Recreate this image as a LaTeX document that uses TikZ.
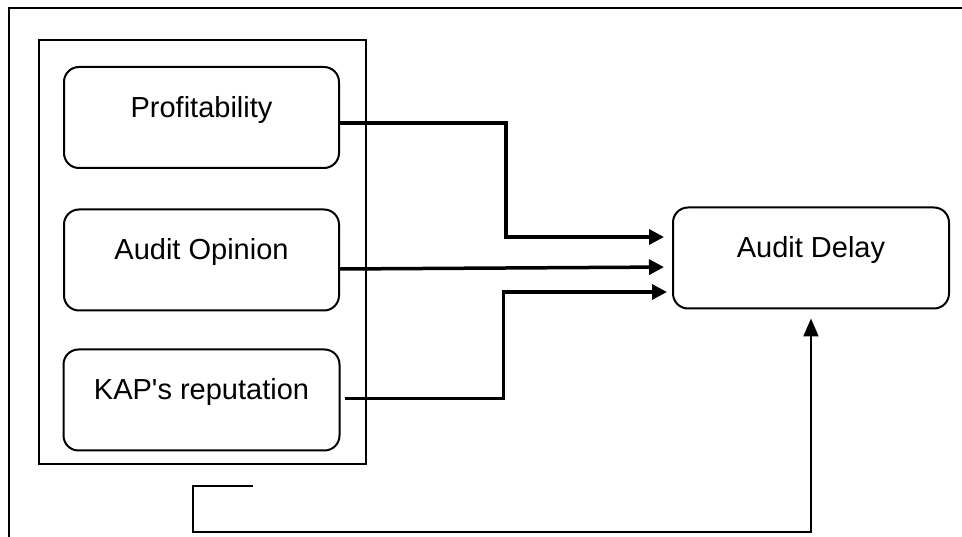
\documentclass[tikz,border=0pt]{standalone}
\usepackage{fontspec}
\setmainfont{Liberation Sans}[Ligatures=TeXOff]
\usetikzlibrary{arrows.meta,positioning}
\tikzset{
  factor/.style  = {rectangle, rounded corners=15pt, draw, line width=2pt,
                    minimum width=#1, minimum height=101pt, inner sep=0pt,
                    text height=20pt, text depth=20pt,
                    font=\fontsize{29}{35}\selectfont},
  groupbox/.style = {rectangle, draw, line width=2pt,
                    minimum width=327pt, minimum height=424pt},
  frame/.style   = {line width=1.5pt},
  flow/.style    = {-{Triangle[length=15pt,width=15pt]}, line width=3.5pt},
  back flow/.style = {-{Triangle[length=18pt,width=15pt]}, line width=2pt},
}
\begin{document}
\begin{tikzpicture}[x=1pt, y=-1pt]
  \useasboundingbox (0,0) rectangle (962,537);

  % outer frame, cut off at the page edge
  \draw[frame] (9,537) -- (9,8) -- (962,8);

  \node[groupbox] (factors) at (202.5,252) {};

  \node[factor=275pt] (prof) at (201.5,117.5) {Profitability};
  \node[factor=275pt, below=39.5pt of prof] (opin) {Audit Opinion};
  \node[factor=276pt, below=37pt of opin] (kap) {KAP's reputation};

  \node[factor=276pt] (delay) at (811,258) {Audit Delay};

  \draw[flow, shorten >=8pt] ([yshift=-5.5pt]prof.east) -- ++(166,0)
       |- ([yshift=21pt]delay.west);
  \draw[flow, shorten >=8pt] ([yshift=-9pt]opin.east) -- ([yshift=-9pt]delay.west);
  \draw[flow, shorten <=4pt, shorten >=5pt] ([yshift=1.5pt]kap.east) -- ++(163,0)
       |- ([yshift=-34pt]delay.west);

  % feedback line
  \coordinate (loopend) at (253,486);
  \draw[back flow, shorten >=9pt] (loopend) -- (193,486) -- (193,532)
       -| (delay.south);
\end{tikzpicture}
\end{document}
